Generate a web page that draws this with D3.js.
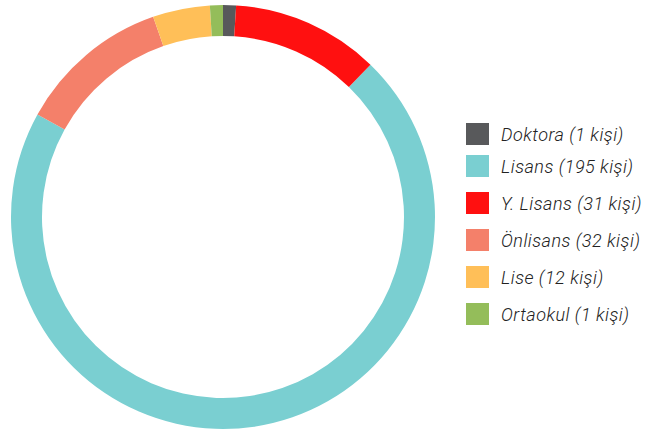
<!DOCTYPE html>
<html>
<head>
<meta charset="utf-8">
<script src="https://cdn.jsdelivr.net/npm/d3@7"></script>
<style>
  html, body { margin: 0; padding: 0; background: #fff; }
  svg { display: block; }
  .legend text { font-family: Roboto, "Open Sans", sans-serif; font-style: italic; font-weight: 300; font-size: 18px; letter-spacing: 0.5px; fill: #222; }
</style>
</head>
<body>
<div id="chart"></div>
<script>
// legend order
const categories = ["Doktora", "Lisans", "Y. Lisans", "Önlisans", "Lise", "Ortaokul"];
const counts = [1, 195, 31, 32, 12, 1];
const colors = ["#58595b", "#7acfd1", "#ff1010", "#f4806a", "#ffbf58", "#94bd5a"];
// order the slices run clockwise from the top
const sliceOrder = ["Doktora", "Y. Lisans", "Lisans", "Önlisans", "Lise", "Ortaokul"];

const W = 659, H = 430;
const CX = 223, CY = 217, R_OUT = 212, R_IN = 181;

const svg = d3.select("#chart").append("svg").attr("width", W).attr("height", H);

const color = d3.scaleOrdinal().domain(categories).range(colors);
const data = categories.map((c, i) => ({ name: c, value: counts[i] }));
const total = d3.sum(counts);

// tiny slices get a minimum share so they stay visible
const pie = d3.pie()
  .value((d) => Math.max(d.value, total * 0.01))
  .sort((a, b) => sliceOrder.indexOf(a.name) - sliceOrder.indexOf(b.name));

const arc = d3.arc().innerRadius(R_IN).outerRadius(R_OUT);

svg.append("g")
  .attr("transform", `translate(${CX},${CY})`)
  .selectAll("path")
  .data(pie(data))
  .join("path")
  .attr("d", arc)
  .attr("fill", (d) => color(d.data.name));

// legend
const rowY = (i) => (i === 0 ? 123 : 155 + (i - 1) * 37);
const legend = svg.append("g").attr("class", "legend");
const rows = legend.selectAll("g")
  .data(data)
  .join("g")
  .attr("transform", (d, i) => `translate(466,${rowY(i)})`);

rows.append("rect")
  .attr("width", 23)
  .attr("height", 22)
  .attr("fill", (d) => color(d.name));

rows.append("text")
  .attr("x", 35)
  .attr("y", 18)
  .text((d) => `${d.name} (${d.value} kişi)`);
</script>
</body>
</html>
